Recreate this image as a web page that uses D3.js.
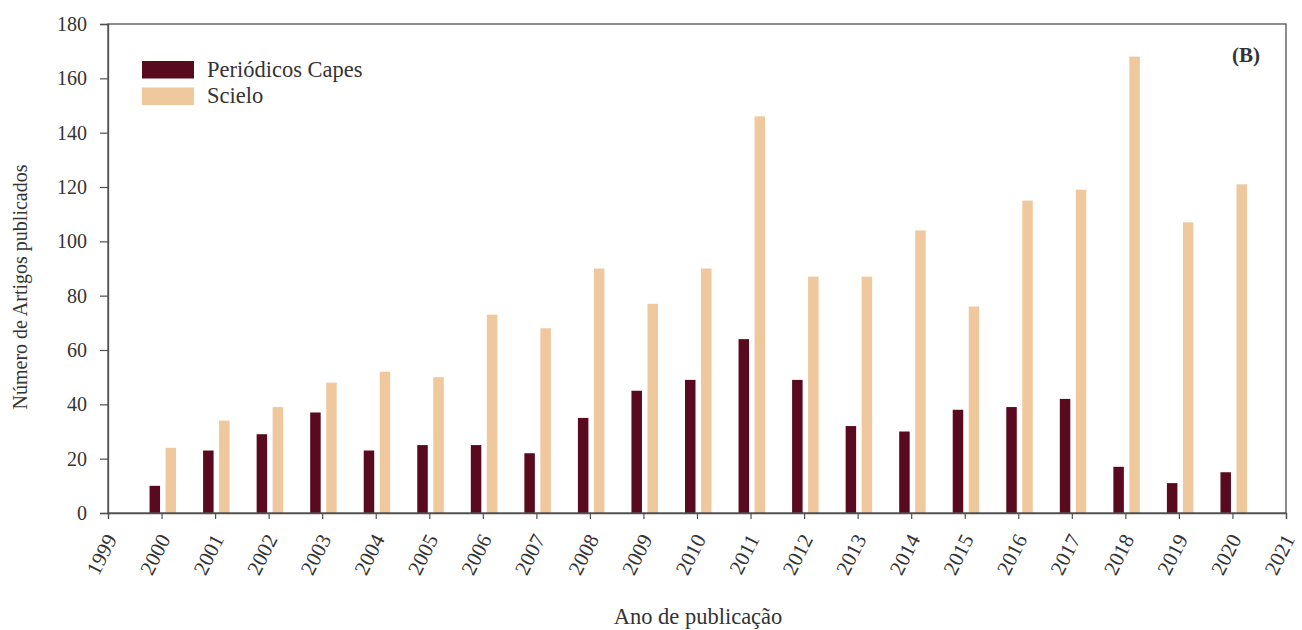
<!DOCTYPE html>
<html>
<head>
<meta charset="utf-8">
<script src="https://cdn.jsdelivr.net/npm/d3@7"></script>
<style>
  html, body { margin: 0; padding: 0; background: #fff; }
  svg { display: block; }
  svg text { font-family: "Liberation Serif", "Times New Roman", serif; fill: #333; }
</style>
</head>
<body>
<svg id="chart" width="1302" height="630"></svg>
<script>
// Artigos publicados por ano, por base de dados
const years = [2000, 2001, 2002, 2003, 2004, 2005, 2006, 2007, 2008, 2009, 2010,
               2011, 2012, 2013, 2014, 2015, 2016, 2017, 2018, 2019, 2020];
const capes = [10, 23, 29, 37, 23, 25, 25, 22, 35, 45, 49,
               64, 49, 32, 30, 38, 39, 42, 17, 11, 15];
const scielo = [24, 34, 39, 48, 52, 50, 73, 68, 90, 77, 90,
                146, 87, 87, 104, 76, 115, 119, 168, 107, 121];
const xTicks = d3.range(1999, 2022);
const yTicks = [0, 20, 40, 60, 80, 100, 120, 140, 160, 180];
const seriesNames = ["Periódicos Capes", "Scielo"];
const seriesColors = ["#5a0a1e", "#efc89e"];

const svg = d3.select("#chart");
const m = { left: 108, right: 16, top: 24, bottom: 117 };
const W = 1302, H = 630;
const iw = W - m.left - m.right, ih = H - m.top - m.bottom;

const x = d3.scaleLinear().domain([1999, 2021]).range([m.left, m.left + iw]);
const y = d3.scaleLinear().domain([0, 180]).range([m.top + ih, m.top]);

const barW = 10.5;
const frameColor = "#505050";

// bars: Capes to the left of each year tick, Scielo to the right
const g = svg.append("g");
g.selectAll("rect.capes").data(years).join("rect")
  .attr("class", "capes")
  .attr("x", (d) => x(d) - 12)
  .attr("width", barW)
  .attr("y", (d, i) => y(capes[i]))
  .attr("height", (d, i) => y(0) - y(capes[i]))
  .attr("fill", seriesColors[0]);
g.selectAll("rect.scielo").data(years).join("rect")
  .attr("class", "scielo")
  .attr("x", (d) => x(d) + 4)
  .attr("width", barW)
  .attr("y", (d, i) => y(scielo[i]))
  .attr("height", (d, i) => y(0) - y(scielo[i]))
  .attr("fill", seriesColors[1]);

// frame
svg.append("rect")
  .attr("x", m.left).attr("y", m.top)
  .attr("width", iw).attr("height", ih)
  .attr("fill", "none").attr("stroke", frameColor).attr("stroke-width", 1.3);

// y axis
const yAxis = svg.append("g")
  .attr("transform", `translate(${m.left},0)`)
  .call(d3.axisLeft(y).tickValues(yTicks).tickSize(8).tickPadding(13).tickFormat(d3.format("d")));
yAxis.select(".domain").attr("stroke", frameColor).attr("stroke-width", 1.3);
yAxis.selectAll(".tick line").attr("stroke", frameColor).attr("stroke-width", 1.2);
yAxis.selectAll(".tick text").style("font-size", "20px").attr("fill", "#333");

// x axis with slanted year labels
const xAxis = svg.append("g")
  .attr("transform", `translate(0,${m.top + ih})`)
  .call(d3.axisBottom(x).tickValues(xTicks).tickSize(6).tickFormat(d3.format("d")));
xAxis.select(".domain").attr("stroke", frameColor).attr("stroke-width", 1.3);
xAxis.selectAll(".tick line").attr("stroke", frameColor).attr("stroke-width", 1.2);
xAxis.selectAll(".tick text")
  .style("font-size", "21px").attr("fill", "#333")
  .attr("text-anchor", "end")
  .attr("dy", "0")
  .attr("x", 0).attr("y", 0)
  .attr("transform", "translate(9,26) rotate(-63)");

// axis titles
svg.append("text")
  .attr("transform", `translate(27,287) rotate(-90)`)
  .attr("text-anchor", "middle")
  .style("font-size", "20px")
  .text("Número de Artigos publicados");
svg.append("text")
  .attr("x", 698).attr("y", 624)
  .attr("text-anchor", "middle")
  .style("font-size", "22.5px")
  .text("Ano de publicação");

// legend
const leg = svg.append("g").attr("transform", "translate(142,61)");
seriesNames.forEach((name, i) => {
  leg.append("rect").attr("x", 0).attr("y", i * 26.5).attr("width", 52).attr("height", 17.5)
    .attr("fill", seriesColors[i]);
  leg.append("text").attr("x", 65).attr("y", i * 26 + 16)
    .style("font-size", "22.5px").text(name);
});

// panel label
svg.append("text")
  .attr("x", 1246).attr("y", 62).attr("text-anchor", "middle")
  .style("font-size", "21px").style("font-weight", "bold")
  .text("(B)");
</script>
</body>
</html>
